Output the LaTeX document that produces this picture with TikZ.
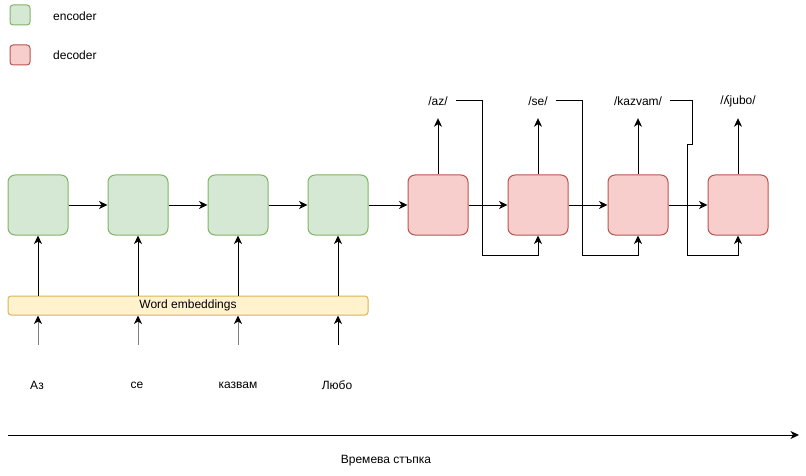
\documentclass[tikz,border=0pt]{standalone}
\usepackage{fontspec}
\setmainfont{Liberation Sans}
\usetikzlibrary{arrows.meta}
\definecolor{encfill}{HTML}{D5E8D4}
\definecolor{encdraw}{HTML}{82B366}
\definecolor{decfill}{HTML}{F8CECC}
\definecolor{decdraw}{HTML}{B85450}
\definecolor{embfill}{HTML}{FFF2CC}
\definecolor{embdraw}{HTML}{D6B656}
\definecolor{shaftgray}{HTML}{808080}
\tikzset{
  every node/.style={font=\fontsize{12}{14}\selectfont},
  cell/.style={minimum width=60, minimum height=60, rounded corners=7, line width=1pt, inner sep=0},
  enc/.style={cell, fill=encfill, draw=encdraw},
  dec/.style={cell, fill=decfill, draw=decdraw},
  legbox/.style={minimum width=20, minimum height=20, rounded corners=3, line width=1pt, inner sep=0},
  embbox/.style={minimum width=360, minimum height=19, rounded corners=3, line width=1pt, inner sep=0, fill=embfill, draw=embdraw},
  arr/.style={line width=1pt, -{Stealth[length=8.5pt,width=8pt,inset=2.5pt]}},
  grayarr/.style={line width=1pt, draw=shaftgray, -{Stealth[length=8.5pt,width=8pt,inset=2.5pt,color=black]}},
  lbl/.style={inner xsep=8, inner ysep=0, minimum height=34},
  word/.style={inner sep=2},
}
\begin{document}
\begin{tikzpicture}[x=1pt, y=-1pt]
\useasboundingbox (0,0) rectangle (806,476);
% legend
\node[legbox, fill=encfill, draw=encdraw] (lenc) at (20,15) {};
\node[anchor=west, inner sep=0] (lenct) at (53,16) {encoder};
\node[legbox, fill=decfill, draw=decdraw] (ldec) at (20,55) {};
\node[anchor=west, inner sep=0] (ldect) at (53,55) {decoder};
% encoder / decoder cells
\node[enc] (e1) at (38,205) {};
\node[enc] (e2) at (138,205) {};
\node[enc] (e3) at (238,205) {};
\node[enc] (e4) at (338,205) {};
\node[dec] (d1) at (438,205) {};
\node[dec] (d2) at (538,205) {};
\node[dec] (d3) at (638,205) {};
\node[dec] (d4) at (738,205) {};
\draw[arr] (e1.east) -- (e2.west);
\draw[arr] (e2.east) -- (e3.west);
\draw[arr] (e3.east) -- (e4.west);
\draw[arr] (e4.east) -- (d1.west);
\draw[arr] (d1.east) -- (d2.west);
\draw[arr] (d2.east) -- (d3.west);
\draw[arr] (d3.east) -- (d4.west);
% embeddings
\node[embbox] (emb) at (188,305.5) {Word embeddings};
\draw[arr] (emb.north -| e1) -- (e1.south);
\draw[arr] (emb.north -| e2) -- (e2.south);
\draw[arr] (emb.north -| e3) -- (e3.south);
\draw[arr] (emb.north -| e4) -- (e4.south);
% input words
\node[word] (w1) at (37,385) {Аз};
\node[word] (w2) at (137,385) {се};
\node[word] (w3) at (238,385) {казвам};
\node[word] (w4) at (337,385) {Любо};
\coordinate (s1) at (38,345);
\coordinate (s2) at (138,345);
\coordinate (s3) at (238,345);
\coordinate (s4) at (338,345);
\draw[grayarr] (s1) -- (emb.south -| s1);
\draw[grayarr] (s2) -- (emb.south -| s2);
\draw[grayarr] (s3) -- (emb.south -| s3);
\draw[arr] (s4) -- (emb.south -| s4);
% outputs
\node[lbl] (o1) at (438,101) {/az/};
\node[lbl] (o2) at (538,101) {/se/};
\node[lbl] (o3) at (638,101) {/kazvam/};
\node[lbl] (o4) at (738,101) {/ʎjubo/};
\draw[arr] (d1.north) -- (o1.south);
\draw[arr] (d2.north) -- (o2.south);
\draw[arr] (d3.north) -- (o3.south);
\draw[arr] (d4.north) -- (o4.south);
% feedback
\draw[arr] (o1.east) -- (482,101) -- (482,255) -| (d2.south);
\draw[arr] (o2.east) -- (582,101) -- (582,255) -| (d3.south);
\draw[arr] (o3.east) -- (692,101) -- (692,145) -- (687,145) -- (687,255) -| (d4.south);
% time axis
\coordinate (t0) at (8,435);
\coordinate (t1) at (799,435);
\draw[arr] (t0) -- (t1);
\node (tl) at (386,461) {Времева стъпка};
\end{tikzpicture}
\end{document}
